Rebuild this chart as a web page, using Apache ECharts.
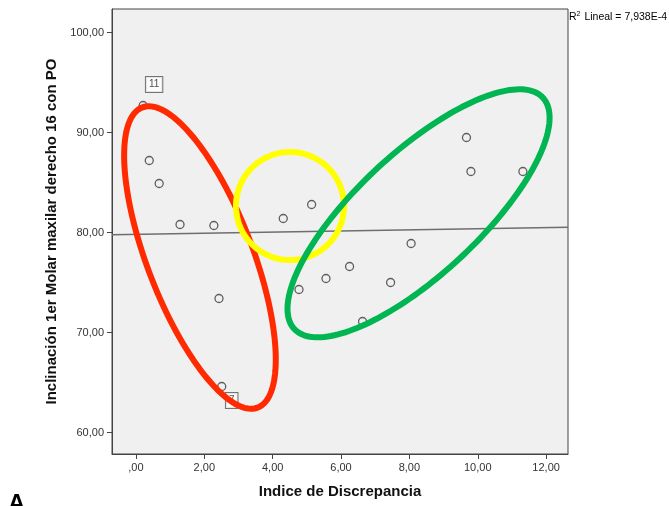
<!DOCTYPE html>
<html>
<head>
<meta charset="utf-8">
<script src="https://cdn.jsdelivr.net/npm/echarts@6/dist/echarts.min.js"></script>
<style>
html,body{margin:0;padding:0;background:#fff;}
#chart{width:669px;height:506px;}
</style>
</head>
<body>
<div id="chart"></div>
<script>
// ---- data ----
const xValues = [0.21, 0.39, 0.68, 1.29, 2.28, 2.43, 2.51, 4.31, 5.14, 4.77, 5.56, 6.25, 6.63, 7.45, 8.05, 9.67, 9.80, 11.32];
const yValues = [92.7, 87.2, 84.9, 80.8, 80.7, 73.4, 64.6, 81.4, 82.8, 74.3, 75.4, 76.6, 71.1, 75.0, 78.9, 89.5, 86.1, 86.1];
const caseLabelText = ['11', '7'];
const caseLabelIndex = [0, 6];
const xTicks = [0, 2, 4, 6, 8, 10, 12];
const yTicks = [60, 70, 80, 90, 100];
const xRange = [-0.70, 12.64];
const yRange = [57.85, 102.35];
const xTitle = 'Indice de Discrepancia';
const yTitle = 'Inclinación 1er Molar maxilar derecho 16 con PO';
const r2Text = '7,938E-4';
// annotation ellipses (data units): centre x, centre y, conjugate semi-diameters P and Q
const ellipseCx = [1.873, 4.507, 8.268];
const ellipseCy = [77.5, 82.65, 81.92];
const ellipsePx = [2.218, 1.580, 3.834];
const ellipsePy = [-10.2, 0, 9.55];
const ellipseQx = [0, 0, 0];
const ellipseQy = [11.17, 5.4, 7.91];
const ellipseColors = ['#ff2a00', '#ffff00', '#00b552'];

// ---- least squares line ----
const n = xValues.length;
const mx = xValues.reduce((a, b) => a + b, 0) / n;
const my = yValues.reduce((a, b) => a + b, 0) / n;
let sxy = 0, sxx = 0;
for (let i = 0; i < n; i++) { sxy += (xValues[i] - mx) * (yValues[i] - my); sxx += (xValues[i] - mx) ** 2; }
const slope = sxy / sxx;
const intercept = my - slope * mx;
const fitLine = [[xRange[0], intercept + slope * xRange[0]], [xRange[1], intercept + slope * xRange[1]]];

const fmt = v => { let s = Number(v).toFixed(2).replace('.', ','); if (s.startsWith('0,')) s = s.slice(1); return s; };

const points = xValues.map((x, i) => {
  const item = { value: [x, yValues[i]] };
  const k = caseLabelIndex.indexOf(i);
  if (k >= 0) {
    item.label = {
      show: true, formatter: caseLabelText[k], position: 'inside',
      offset: k === 0 ? [11, -21] : [10, 14],
      backgroundColor: '#fff', borderColor: '#555', borderWidth: 1,
      padding: [3, 3, 2, 3], fontSize: 10, color: '#222', fontFamily: 'Arial, Liberation Sans'
    };
  }
  return item;
});

const ellipseData = ellipseCx.map((c, i) => [c, ellipseCy[i], ellipsePx[i], ellipsePy[i], ellipseQx[i], ellipseQy[i], i]);

const font = 'Arial, "Liberation Sans", sans-serif';
const chart = echarts.init(document.getElementById('chart'));
chart.setOption({
  animation: false,
  backgroundColor: '#fff',
  grid: { left: 112, top: 9, width: 456, height: 445, show: true, backgroundColor: '#f0f0f0', borderColor: '#444', borderWidth: 1 },
  xAxis: {
    type: 'value', min: xRange[0], max: xRange[1],
    name: xTitle, nameLocation: 'middle', nameGap: 30,
    nameTextStyle: { fontFamily: font, fontWeight: 'bold', fontSize: 15, color: '#111' },
    axisLine: { show: true, onZero: false, lineStyle: { color: '#444', width: 1 } },
    axisTick: { show: true, length: 5, customValues: xTicks, lineStyle: { color: '#444' } },
    axisLabel: { customValues: xTicks, formatter: fmt, fontFamily: font, fontSize: 11, color: '#333', margin: 8 },
    splitLine: { show: false }
  },
  yAxis: {
    type: 'value', min: yRange[0], max: yRange[1],
    name: yTitle, nameLocation: 'middle', nameGap: 44,
    nameTextStyle: { fontFamily: font, fontWeight: 'bold', fontSize: 15, color: '#111' },
    axisLine: { show: true, onZero: false, lineStyle: { color: '#444', width: 1 } },
    axisTick: { show: true, length: 5, customValues: yTicks, lineStyle: { color: '#444' } },
    axisLabel: { customValues: yTicks, formatter: fmt, fontFamily: font, fontSize: 11, color: '#333', margin: 8 },
    splitLine: { show: false }
  },
  series: [
    { type: 'line', data: fitLine, symbol: 'none', lineStyle: { color: '#6e6e6e', width: 1.5 }, z: 2, silent: true },
    { type: 'scatter', data: points, symbol: 'circle', symbolSize: 8,
      itemStyle: { color: 'rgba(0,0,0,0)', borderColor: '#3a3a3a', borderWidth: 1.3 }, z: 3 },
    { type: 'custom', data: ellipseData, z: 5, silent: true,
      renderItem: function (params, api) {
        const cx = api.value(0), cy = api.value(1), px = api.value(2), py = api.value(3), qx = api.value(4), qy = api.value(5);
        const idx = api.value(6);
        const pts = [];
        for (let k = 0; k < 180; k++) {
          const t = k / 180 * Math.PI * 2;
          pts.push(api.coord([cx + Math.cos(t) * px + Math.sin(t) * qx, cy + Math.cos(t) * py + Math.sin(t) * qy]));
        }
        return { type: 'polygon', shape: { points: pts },
          style: { fill: null, stroke: ellipseColors[idx], lineWidth: 6 } };
      }
    }
  ],
  graphic: [
    { type: 'text', left: 569, top: 11, style: {
        text: '{b|R}{s|2}{b| Lineal = ' + r2Text + '}',
        rich: { b: { fontFamily: font, fontSize: 10.5, color: '#222' }, s: { fontFamily: font, fontSize: 7, color: '#222', verticalAlign: 'top', padding: [0, 1, 5, 0] } } } },
    { type: 'text', left: 8, top: 492, style: { text: 'A', fontFamily: font, fontWeight: 'bold', fontSize: 24, fill: '#000' } }
  ]
});
</script>
</body>
</html>
